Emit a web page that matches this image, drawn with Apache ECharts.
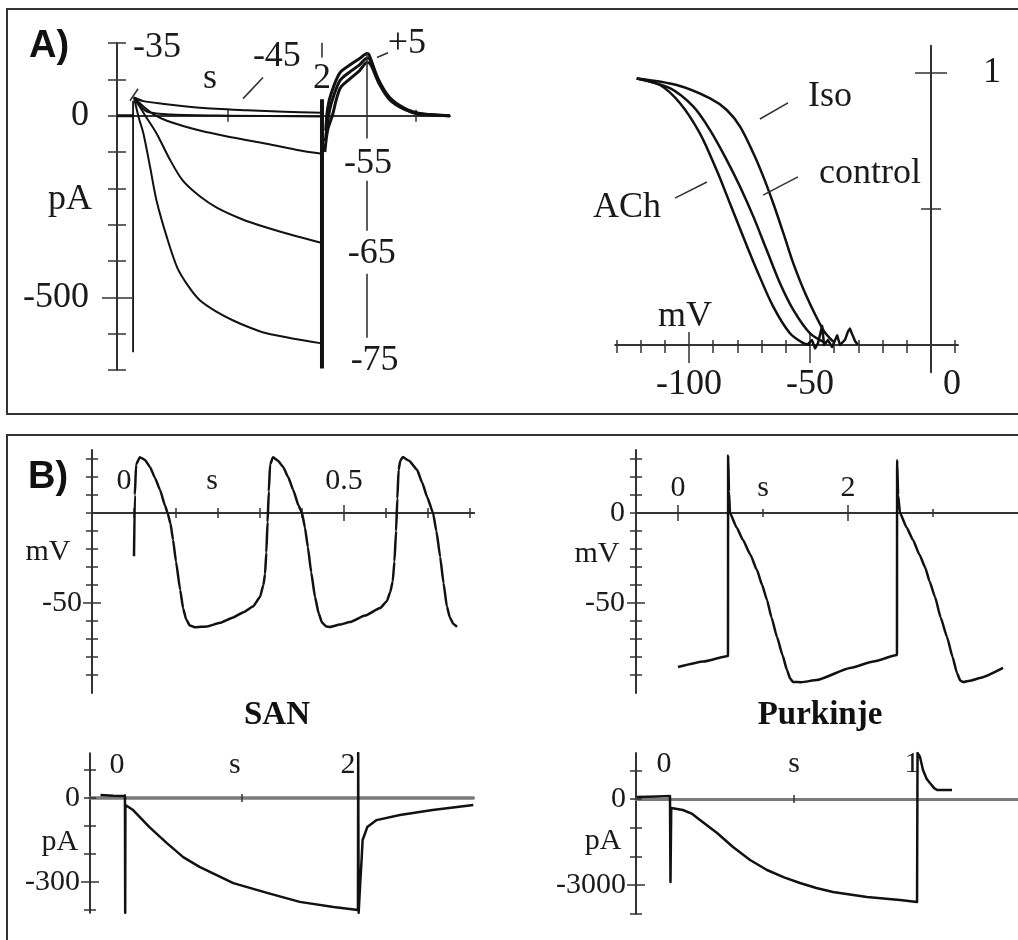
<!DOCTYPE html>
<html>
<head>
<meta charset="utf-8">
<title>If / Ih currents and action potentials</title>
<script src="https://cdn.jsdelivr.net/npm/echarts@6.0.0/dist/echarts.min.js"></script>
<style>
  html, body { margin: 0; padding: 0; background: #fff; }
  #chart { width: 1018px; height: 940px; }
</style>
</head>
<body>
<div id="chart"></div>
<script>
// ---- A) left: current (pA) vs time (s), steps from holding, then +5 mV
const holdA = [[-0.18, 0], [0, 0]]
const stepM35 = [[0, 50], [0.05, 30], [0.15, 10], [0.4, 3], [1, 0], [2, -2]]
const stepM45 = [[0, 50], [0.1, 40], [0.3, 33], [0.7, 22], [1.2, 15], [1.6, 11], [2, 8]]
const stepM55 = [[0, 50], [0.1, 25], [0.2, 5], [0.35, -14], [0.7, -41], [1.05, -60], [1.41, -77], [1.77, -96], [2, -105]]
const stepM65 = [[0, 50], [0.12, 0], [0.24, -49], [0.38, -120], [0.52, -179], [0.7, -222], [0.88, -253], [1.15, -285], [1.41, -308], [1.7, -330], [1.98, -349]]
const stepM75 = [[0, 50], [0.05, -5], [0.1, -49], [0.17, -140], [0.24, -234], [0.35, -335], [0.46, -418], [0.58, -470], [0.7, -508], [0.88, -540], [1.05, -563], [1.23, -583], [1.41, -599], [1.7, -614], [1.98, -626]]
const onsetA = [[-0.01, 41], [-0.01, -651]]
const offsetA = [[2, 45], [2, -696]]
const tailUpper = [[2.04, -41], [2.06, 20], [2.1, 63], [2.19, 118], [2.3, 140], [2.4, 157], [2.48, 171], [2.5, 168], [2.6, 100], [2.72, 50], [2.88, 20], [3.04, 6], [3.2, 2], [3.36, 0]]
const tailMid = [[2.035, -70], [2.07, 0], [2.1, 35], [2.19, 96], [2.3, 121], [2.4, 140], [2.48, 158], [2.51, 155], [2.6, 96], [2.72, 47], [2.88, 18], [3.04, 5], [3.36, 0]]
const tailLower = [[2.03, -100], [2.06, -40], [2.11, 0], [2.19, 74], [2.3, 102], [2.4, 124], [2.48, 146], [2.52, 140], [2.6, 92], [2.72, 44], [2.88, 17], [3.04, 4], [3.36, 0]]
const aLeftTicksY = [-700, -600, -500, -400, -300, -200, -100, 0, 100, 200]

// ---- A) right: activation (0..1) vs mV
const achCurve = [[-121.6, 0.98], [-112, 0.956], [-103.7, 0.889], [-95.5, 0.778], [-88.6, 0.643], [-83.1, 0.521], [-77.6, 0.398], [-72, 0.276], [-65.2, 0.141], [-58.3, 0.043], [-53, 0.008], [-50, 0]]
const controlCurve = [[-121.6, 0.98], [-107.9, 0.944], [-98.2, 0.876], [-91.3, 0.79], [-84.4, 0.68], [-78.9, 0.582], [-73.4, 0.472], [-67.9, 0.349], [-62.4, 0.227], [-56.9, 0.129], [-50, 0.043], [-43.1, 0.006]]
const isoCurve = [[-121.6, 0.98], [-105.1, 0.956], [-91.3, 0.907], [-84.4, 0.864], [-78.9, 0.803], [-73.4, 0.705], [-69.3, 0.619], [-65.2, 0.521], [-61, 0.411], [-56.9, 0.3], [-51.4, 0.178], [-44.5, 0.055], [-40.4, 0.012]]
const tailNoise = [[-51.2, 0], [-49.2, 0.018], [-47.9, -0.012], [-46.7, 0.007], [-45, 0.07], [-44.2, 0], [-42.6, 0.018], [-40.9, -0.007], [-38.8, 0.035], [-37.6, 0], [-35.5, 0.02], [-34.3, 0.05], [-33.5, 0.06], [-32.6, 0.04], [-31.4, 0.015], [-30.2, 0]]
const mvTicks = [-130, -120, -110, -100, -90, -80, -70, -60, -50, -40, -30, -20, -10, 0, 10]

// ---- B) action potentials (mV vs s)
const sanAP = [[0, -24], [0.002, 10], [0.005, 27], [0.014, 31], [0.026, 29.5], [0.038, 25.6], [0.05, 19.5], [0.062, 12.8], [0.074, 4], [0.08, 0], [0.087, -6], [0.093, -15], [0.1, -27], [0.11, -42.8], [0.117, -53], [0.124, -59], [0.133, -62.5], [0.145, -63.5], [0.174, -63], [0.205, -61], [0.236, -58], [0.262, -55], [0.283, -52], [0.3, -46.7], [0.308, -40], [0.312, -34], [0.315, -22], [0.318, -5], [0.321, 12], [0.324, 27], [0.331, 31],
  [0.343, 29], [0.355, 25.6], [0.367, 20], [0.379, 12.8], [0.392, 4], [0.4, 0], [0.407, -8], [0.414, -19], [0.422, -33], [0.431, -46.7], [0.44, -56], [0.448, -61], [0.458, -63], [0.467, -63.3], [0.49, -62], [0.514, -60.6], [0.55, -57], [0.586, -52.8], [0.602, -49], [0.61, -44], [0.616, -38], [0.62, -27], [0.624, -10], [0.627, 8], [0.63, 24], [0.634, 29], [0.64, 31.1],
  [0.655, 29], [0.674, 24], [0.686, 17], [0.698, 8.9], [0.712, 0], [0.72, -10], [0.729, -24.4], [0.737, -39], [0.745, -52], [0.752, -58], [0.76, -61.5], [0.769, -63.3]]
const purkAP = [[0, -85.6], [0.3, -82.5], [0.588, -79.4], [0.59, 32], [0.6, 12], [0.612, 0], [0.69, -8], [0.765, -15], [0.85, -23], [0.929, -31.7], [0.99, -40], [1.047, -48.3], [1.1, -58], [1.165, -68.9], [1.23, -79], [1.282, -87.2], [1.32, -92], [1.353, -93.9], [1.45, -94], [1.635, -92.8], [2.024, -86.1], [2.3, -82.5], [2.576, -78.9],
  [2.578, 29.4], [2.59, 10], [2.612, 0], [2.69, -8], [2.765, -15], [2.84, -23], [2.906, -30], [2.96, -38], [3.024, -46.7], [3.09, -58], [3.165, -68.9], [3.23, -80], [3.282, -88.9], [3.32, -93], [3.353, -93.9], [3.45, -93], [3.553, -91.7], [3.824, -86.1]]
const apTicksY = [-90, -80, -70, -60, -50, -40, -30, -20, -10, 0, 10, 20, 30]

// ---- B) currents (pA vs s)
const sanI = [[-0.21, 11], [-0.1, 8], [0, 7], [0.002, -410], [0.004, -25], [0.07, -43], [0.21, -104], [0.36, -161], [0.5, -211], [0.64, -246], [0.93, -304], [1.22, -339], [1.5, -371], [1.79, -389], [2.0, -400], [2.002, 161], [2.006, -410], [2.02, -300], [2.03, -229], [2.04, -150], [2.08, -104], [2.16, -79], [2.36, -61], [2.64, -43], [2.99, -25]]
const purkI = [[-0.133, 70], [-0.05, 90], [0, 105], [0.002, -2892], [0.005, -314], [0.052, -383], [0.09, -520], [0.121, -732], [0.19, -1185], [0.254, -1672], [0.323, -2125], [0.391, -2474], [0.46, -2730], [0.524, -2927], [0.59, -3100], [0.657, -3240], [0.794, -3415], [0.927, -3519], [0.996, -3589], [0.998, 1603], [1.008, 1463], [1.02, 1010], [1.035, 700], [1.048, 557], [1.065, 380], [1.077, 314], [1.137, 314]]

const SERIF = '"Liberation Serif", "Times New Roman", serif'
const INK = '#111'
const AXIS = '#333'
const TEXT = '#1a1a1a'

const option = { animation: false, backgroundColor: '#fff', grid: [], xAxis: [], yAxis: [], series: [], graphic: [] }

const labelFormatter = (pairs) => (v) => {
  const hit = pairs.find((p) => Math.abs(p[0] - v) < 1e-6)
  return hit ? hit[1] : ''
}

function addPanel(p) {
  const g = option.grid.length
  const [left, top, width, height] = p.box
  option.grid.push({ left, top, width, height, containLabel: false, outerBoundsMode: 'none' })
  const xi = option.xAxis.length
  const yi = option.yAxis.length
  // labels stay at the grid edge even when the line sits on zero,
  // so turn the wanted gap from the zero line into a gap from the edge
  const zeroFromTop = height * p.y[1] / (p.y[1] - p.y[0])
  const zeroFromLeft = width * -p.x[0] / (p.x[1] - p.x[0])
  const xMargin = p.xPos === 'top' ? p.xMargin - zeroFromTop : p.xMargin - (height - zeroFromTop)
  const yMargin = p.yOnZero ? p.yMargin - (width - zeroFromLeft) : p.yMargin
  const base = (range, position) => ({
    type: 'value', gridIndex: g, min: range[0], max: range[1], position,
    splitLine: { show: false }, axisTick: { show: false }, axisLabel: { show: false }, axisLine: { show: false },
  })
  const text = { color: TEXT, fontFamily: SERIF, fontSize: p.font }
  option.xAxis.push({
    ...base(p.x, p.xPos),
    axisLine: { show: true, onZero: true, onZeroAxisIndex: yi, lineStyle: { color: p.xLineColor || AXIS, width: p.xLineWidth || 2 } },
    axisLabel: { show: true, customValues: p.xLabels.map((l) => l[0]), formatter: labelFormatter(p.xLabels), margin: xMargin, ...text },
  })
  option.yAxis.push({
    ...base(p.y, p.yPos),
    axisLine: { show: true, onZero: !!p.yOnZero, onZeroAxisIndex: xi, lineStyle: { color: AXIS, width: 2 } },
    axisLabel: { show: true, customValues: p.yLabels.map((l) => l[0]), formatter: labelFormatter(p.yLabels), margin: yMargin, ...text },
  })
  // ticks that cross the axis line: one axis draws outward, a twin draws inward
  p.xTicks.forEach(([vals, outLen, inLen]) => {
    [[outLen, false], [inLen, true]].forEach(([len, inside]) => {
      option.xAxis.push({
        ...base(p.x, p.xPos),
        axisLine: { show: false, onZero: true, onZeroAxisIndex: yi },
        axisTick: { show: true, customValues: vals, length: len, inside, lineStyle: { color: AXIS, width: 1.5 } },
      })
    })
  })
  p.yTicks.forEach(([vals, outLen, inLen]) => {
    [[outLen, false], [inLen, true]].forEach(([len, inside]) => {
      option.yAxis.push({
        ...base(p.y, p.yPos),
        axisLine: { show: false, onZero: !!p.yOnZero, onZeroAxisIndex: xi },
        axisTick: { show: true, customValues: vals, length: len, inside, lineStyle: { color: AXIS, width: 1.5 } },
      })
    })
  })
  return { xi, yi }
}

function trace(ax, data, width, extra) {
  option.series.push({
    type: 'line', xAxisIndex: ax.xi, yAxisIndex: ax.yi, data, symbol: 'none', silent: true,
    lineStyle: { color: INK, width, join: 'round' }, ...extra,
  })
}

function notes(ax, items, size) {
  option.series.push({
    type: 'scatter', xAxisIndex: ax.xi, yAxisIndex: ax.yi, clip: false, silent: true,
    symbolSize: 0, itemStyle: { color: '#000', opacity: 1 },
    label: {
      show: true, position: 'inside', formatter: '{b}', color: TEXT, opacity: 1,
      textBorderWidth: 0, textBorderColor: 'transparent', fontFamily: SERIF, fontSize: size,
    },
    data: items.map((n) => ({ name: n[0], value: [n[1], n[2]] })),
  })
}

function pointer(ax, a, b) {
  trace(ax, [a, b], 1.6, { lineStyle: { color: '#333', width: 1.6 } })
}

const soft = { smooth: 0.15, smoothMonotone: 'x' }

// ---------- A) left
const a1 = addPanel({
  box: [117, 43, 333, 327], x: [-0.181, 3.362], y: [-700, 200], font: 36,
  xPos: 'top', yPos: 'left',
  xLabels: [[0.809, 's'], [2, '2']], xMargin: 19,
  yLabels: [[0, '0'], [-500, '-500']], yMargin: 28,
  xTicks: [[[1, 3], 6, 6]],
  yTicks: [[aLeftTicksY, 9, 9], [[-500], 15, 15]],
})
trace(a1, holdA, 3)
trace(a1, stepM35, 2, { smooth: 0.3 })
trace(a1, stepM45, 2, { smooth: 0.3 })
trace(a1, stepM55, 2, { smooth: 0.3 })
trace(a1, stepM65, 2, { smooth: 0.3 })
trace(a1, stepM75, 2, { smooth: 0.3 })
trace(a1, onsetA, 1.8)
trace(a1, offsetA, 4)
trace(a1, tailUpper, 3, { smooth: 0.3 })
trace(a1, tailMid, 3, { smooth: 0.3 })
trace(a1, tailLower, 3, { smooth: 0.3 })
pointer(a1, [2, 201], [2, 160])
pointer(a1, [2.479, 171], [2.479, -63])
pointer(a1, [2.479, -179], [2.479, -317])
pointer(a1, [2.479, -435], [2.479, -611])
pointer(a1, [-0.043, 41], [0.043, 74])
pointer(a1, [1.16, 47], [1.372, 105])
pointer(a1, [2.585, 160], [2.702, 173])
notes(a1, [['pA', -0.681, -231], ['-35', 0.245, 187], ['-45', 1.52, 162], ['+5', 2.904, 198],
  ['-55', 2.49, -132], ['-65', 2.53, -380], ['-75', 2.56, -674]], 36)

// ---------- A) right
const a2 = addPanel({
  box: [615.2, 45.8, 342.8, 326.4], x: [-130.5, 11.15], y: [-0.1, 1.1], font: 36,
  xPos: 'bottom', yPos: 'right', yOnZero: true,
  xLabels: [[-100, '-100'], [-50, '-50'], [8.7, '0']], xMargin: 22,
  yLabels: [[1, '1']], yMargin: 52,
  xTicks: [[mvTicks, 8, 5], [[-100, -50], 18, 13]],
  yTicks: [[[0.5], 10, 10], [[1], 16, 16]],
})
trace(a2, achCurve, 2.5, { smooth: 0.3 })
trace(a2, controlCurve, 2.5, { smooth: 0.3 })
trace(a2, isoCurve, 2.5, { smooth: 0.3 })
trace(a2, tailNoise, 2.5)
pointer(a2, [-70.7, 0.831], [-59.1, 0.89])
pointer(a2, [-69.4, 0.551], [-55, 0.618])
pointer(a2, [-105.8, 0.54], [-92.6, 0.599])
notes(a2, [['Iso', -41.7, 0.915], ['control', -25.2, 0.632], ['ACh', -125.6, 0.504], ['mV', -101.7, 0.103]], 36)

// ---------- B) SAN action potential
const b1 = addPanel({
  box: [92, 450, 382.2, 243], x: [-0.1, 0.81], y: [-100, 35], font: 30,
  xPos: 'top', yPos: 'left',
  xLabels: [[-0.024, '0'], [0.186, 's'], [0.5, '0.5']], xMargin: 17,
  yLabels: [[-50, '-50']], yMargin: 10,
  xTicks: [[[0, 0.1, 0.2, 0.3, 0.4, 0.5, 0.6, 0.7, 0.8], 5, 5], [[0.5], 8, 8]],
  yTicks: [[apTicksY, 6, 6], [[-50], 9, 9]],
})
trace(b1, sanAP, 2.5, soft)
notes(b1, [['mV', -0.205, -21.7]], 30)

// ---------- B) Purkinje action potential
const b2 = addPanel({
  box: [636, 450, 382, 243], x: [-0.494, 4.0], y: [-100, 35], font: 30,
  xPos: 'top', yPos: 'left',
  xLabels: [[0, '0'], [1, 's'], [2, '2']], xMargin: 10,
  yLabels: [[0, '0'], [-50, '-50']], yMargin: 11,
  xTicks: [[[0, 2], 8, 8], [[1, 3], 4, 4]],
  yTicks: [[apTicksY, 6, 6], [[-50], 9, 9]],
})
trace(b2, purkAP, 2.5, soft)
notes(b2, [['mV', -0.953, -22.8]], 30)

// ---------- B) SAN current
const b3 = addPanel({
  box: [90, 753.2, 383.3, 159.6], x: [-0.3, 2.99], y: [-410, 160], font: 30,
  xPos: 'top', yPos: 'left', xLineColor: '#7a7a7a', xLineWidth: 3.5,
  xLabels: [[-0.069, '0'], [0.944, 's'], [1.914, '2']], xMargin: 18,
  yLabels: [[0, '0'], [-300, '-300']], yMargin: 10,
  xTicks: [[[0, 1, 2], 4, 4]],
  yTicks: [[[-400, -300, -200, -100, 0, 100], 6, 6], [[-300], 9, 9]],
})
trace(b3, sanI, 2.5)
notes(b3, [['pA', -0.558, -157]], 30)

// ---------- B) Purkinje current
const b4 = addPanel({
  box: [636, 753.1, 382, 160.7], x: [-0.137, 1.403], y: [-4000, 1600], font: 30,
  xPos: 'top', yPos: 'left', xLineColor: '#7a7a7a', xLineWidth: 3,
  xLabels: [[-0.024, '0'], [0.5, 's'], [0.976, '1']], xMargin: 20,
  yLabels: [[0, '0'], [-3000, '-3000']], yMargin: 10,
  xTicks: [[[0.5], 4, 4]],
  yTicks: [[[-4000, -3000, -2000, -1000, 0, 1000], 6, 6], [[-3000], 9, 9]],
})
trace(b4, purkI, 2.5)
notes(b4, [['pA', -0.27, -1463]], 30)

// ---------- frames, panel letters, titles
const frame = (y, h) => ({ type: 'rect', silent: true, shape: { x: 7, y, width: 1030, height: h }, style: { fill: 'none', stroke: '#333', lineWidth: 2 } })
const word = (text, x, y, font) => ({ type: 'text', silent: true, x, y, style: { text, font, fill: '#111', align: 'center', verticalAlign: 'middle', textAlign: 'center', textVerticalAlign: 'middle' } })
option.graphic = [
  frame(9, 405),
  frame(435, 530),
  word('A)', 49, 47, 'bold 38px "Liberation Sans", Arial, sans-serif'),
  word('B)', 48, 478, 'bold 38px "Liberation Sans", Arial, sans-serif'),
  word('SAN', 277, 715, 'bold 33px "Liberation Serif", "Times New Roman", serif'),
  word('Purkinje', 820, 715, 'bold 33px "Liberation Serif", "Times New Roman", serif'),
]

const chart = echarts.init(document.getElementById('chart'))
chart.setOption(option)
</script>
</body>
</html>
